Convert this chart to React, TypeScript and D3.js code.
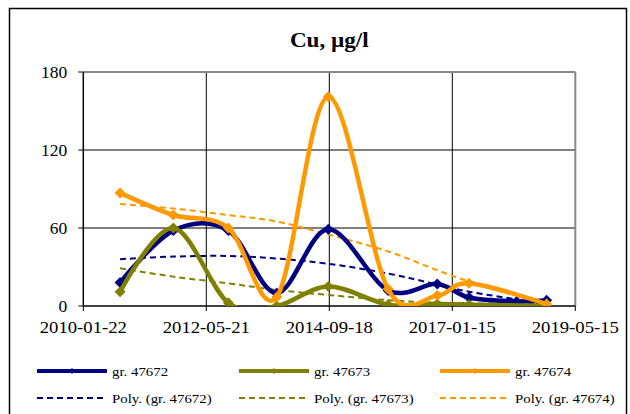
import React from "react";
import * as d3 from "d3";

const title = "Cu, µg/l";
const xTickLabels = ["2010-01-22", "2012-05-21", "2014-09-18", "2017-01-15", "2019-05-15"];
const yTicks = [0, 60, 120, 180];

const datesBlue = ["2010-10-03", "2011-10-06", "2012-10-20", "2013-09-20", "2014-09-11", "2015-10-29", "2016-10-03", "2017-05-11", "2018-04-05", "2018-10-29"];
const datesOther = ["2010-10-03", "2011-10-06", "2012-10-20", "2013-09-20", "2014-09-11", "2015-10-29", "2016-10-03", "2017-05-11", "2018-10-29"];

const blueValues = [18, 58, 58, 10, 59, 12, 17, 6.5, 3.5, 4.5];
const greenValues = [11, 60, 2.5, 0, 15, 1, 1.5, 1, 0];
const orangeValues = [87, 70, 60, 7, 161, 13, 8, 17.5, 1.5];

const blueTrend = [36, 38, 38.5, 36.5, 32.5, 25, 16.5, 11, 5, 0.5];
const greenTrend = [29, 22.6, 17.4, 12.3, 8.5, 4.5, 2.5, 2, 2];
const orangeTrend = [78.5, 75, 70, 65, 55, 42, 27.5, 19, 2];

const seriesNames = ["gr. 47672", "gr. 47673", "gr. 47674"];
const trendNames = ["Poly. (gr. 47672)", "Poly. (gr. 47673)", "Poly. (gr. 47674)"];
const colors = ["#000080", "#808000", "#FF9900"];

const W = 630, H = 414;
const M = { left: 83.3, right: 575.3, top: 72, bottom: 306 };
const FONT = "Liberation Serif, Tinos, Times New Roman, Times, DejaVu Serif, serif";

export default function App() {
  const parse = d3.utcParse("%Y-%m-%d");
  const x = d3.scaleUtc()
    .domain([parse(xTickLabels[0])!, parse(xTickLabels[xTickLabels.length - 1])!])
    .range([M.left, M.right]);
  const y = d3.scaleLinear().domain([0, 180]).range([M.bottom, M.top]);

  const series = [
    { dates: datesBlue, values: blueValues, trend: blueTrend },
    { dates: datesOther, values: greenValues, trend: greenTrend },
    { dates: datesOther, values: orangeValues, trend: orangeTrend },
  ];

  const smooth = d3.line<[Date, number]>()
    .x(d => x(d[0]))
    .y(d => y(d[1]))
    .curve(d3.curveCardinal.tension(0));

  const diamond = (r: number) => `M0,${-r}L${r},0L0,${r}L${-r},0Z`;
  const hs = 1.1;

  return (
    <svg width={W} height={H} style={{ position: "absolute", left: 0, top: 0, fontFamily: FONT }}>
      <rect x={0} y={0} width={W} height={H} fill="#fff" />
      <rect x={9.5} y={8.5} width={617} height={420} fill="none" stroke="#000" strokeWidth={1.5} />
      <defs>
        <clipPath id="plotclip">
          <rect x={M.left} y={M.top} width={M.right - M.left} height={M.bottom - M.top} />
        </clipPath>
      </defs>
      <text x={0} y={0} transform={`translate(${(M.left + M.right) / 2},47) scale(${hs},1)`} textAnchor="middle"
        style={{ fontFamily: FONT }} fontWeight="bold" fontSize={21}>{title}</text>

      {yTicks.slice(1, -1).map(t => (
        <line key={"gy" + t} x1={M.left} x2={M.right} y1={y(t)} y2={y(t)} stroke="#000" strokeWidth={1} />
      ))}
      {xTickLabels.slice(1, -1).map(t => (
        <line key={"gx" + t} x1={x(parse(t)!)} x2={x(parse(t)!)} y1={M.top} y2={M.bottom} stroke="#000" strokeWidth={1} />
      ))}
      <line x1={M.left} x2={M.right} y1={M.top} y2={M.top} stroke="#888" strokeWidth={2} />
      <line x1={M.right} x2={M.right} y1={M.top} y2={M.bottom} stroke="#888" strokeWidth={2} />

      <line x1={M.left} x2={M.left} y1={M.top} y2={M.bottom} stroke="#000" strokeWidth={1.5} />
      <line x1={M.left} x2={M.right} y1={M.bottom} y2={M.bottom} stroke="#000" strokeWidth={1.5} />
      {yTicks.map(t => (
        <g key={"yt" + t}>
          <line x1={M.left - 5} x2={M.left} y1={y(t)} y2={y(t)} stroke="#000" strokeWidth={1} />
          <text x={0} y={0} transform={`translate(${M.left - 16},${y(t) + 6}) scale(1.03,1)`} textAnchor="end"
            style={{ fontFamily: FONT }} fontSize={17}>{t}</text>
        </g>
      ))}
      {xTickLabels.map(t => (
        <g key={"xt" + t}>
          <line x1={x(parse(t)!)} x2={x(parse(t)!)} y1={M.bottom} y2={M.bottom + 5} stroke="#000" strokeWidth={1} />
          <text x={0} y={0} transform={`translate(${x(parse(t)!)},333) scale(${hs},1)`} textAnchor="middle"
            style={{ fontFamily: FONT }} fontSize={17}>{t}</text>
        </g>
      ))}

      <g clipPath="url(#plotclip)">
        {series.map((s, i) => (
          <path key={"tr" + i}
            d={smooth(s.dates.map((d, j) => [parse(d)!, s.trend[j]] as [Date, number]))!}
            fill="none" stroke={colors[i]} strokeWidth={2} strokeDasharray="6,4" />
        ))}
        {series.map((s, i) => (
          <g key={"s" + i}>
            <path
              d={smooth(s.dates.map((d, j) => [parse(d)!, s.values[j]] as [Date, number]))!}
              fill="none" stroke={colors[i]} strokeWidth={4.5} strokeLinejoin="round" />
            {s.dates.map((d, j) => (
              <path key={j} d={diamond(5.5)} transform={`translate(${x(parse(d)!)},${y(s.values[j])})`} fill={colors[i]} />
            ))}
          </g>
        ))}
      </g>

      {[37, 239, 440].map((lx, i) => (
        <g key={"lg" + i}>
          <line x1={lx} x2={lx + 70} y1={371} y2={371} stroke={colors[i]} strokeWidth={4} />
          <path d={diamond(3)} transform={`translate(${lx + 35},371)`} fill={colors[i]} />
          <text x={0} y={0} transform={`translate(${lx + 75},375.5) scale(${hs},1)`} style={{ fontFamily: FONT }} fontSize={13.5}>{seriesNames[i]}</text>
          <line x1={lx} x2={lx + 70} y1={398} y2={398} stroke={colors[i]} strokeWidth={2} strokeDasharray="6,4" />
          <text x={0} y={0} transform={`translate(${lx + 75},402.5) scale(${hs},1)`} style={{ fontFamily: FONT }} fontSize={13.5}>{trendNames[i]}</text>
        </g>
      ))}
    </svg>
  );
}
